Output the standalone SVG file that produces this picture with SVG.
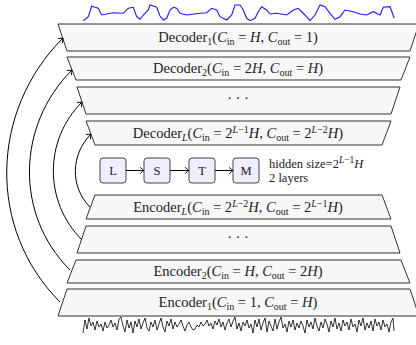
<svg xmlns="http://www.w3.org/2000/svg" width="416" height="345" viewBox="0 0 416 345">
<style>
text{font-family:"Liberation Serif","Times New Roman",serif;font-size:12.5px;fill:#222}
text.lab{font-size:14.5px}
.trap{fill:#f7f7f7;stroke:#333;stroke-width:1}
.box{fill:#eeeeff;stroke:#444;stroke-width:1}
.sub{font-size:9.5px}
.lab .sub{font-size:10px}
.i{font-style:italic}
.conn{fill:none;stroke:#000;stroke-width:1}
</style>
<defs>
<marker id="ah" markerWidth="10" markerHeight="10" refX="0" refY="0" viewBox="-5 -5 10 10" orient="auto" markerUnits="userSpaceOnUse">
<path d="M-4,-3.2 Q-1.2,-0.8 0,0 Q-1.2,0.8 -4,3.2" fill="none" stroke="#000" stroke-width="0.9"/>
</marker>
</defs>
<rect width="416" height="345" fill="#fff"/>
<polyline fill="none" stroke="#1a1aff" stroke-width="1.1" points="83.3,20.7 88.3,16.7 91.7,6 93.3,6.7 98.3,8.3 101.7,15 106.7,14 113.3,12.7 123.3,13.3 128.3,8.3 133.3,7.3 136.7,16.7 140,19.3 143.3,15 148.3,10 150,5 153.3,6 156.7,7.3 160,16 163.3,20 166.7,18.3 170,10 173.3,7.3 176.7,8.3 180,13.3 186.7,15 200,13.3 206.7,12.7 211.7,8.3 216.7,10 220,16.7 226.7,20 231.7,15 235,5 240,5 243.3,10 246.7,18.3 250,20.7 255,18.3 258.3,11.7 261.7,6.7 266.7,10 270,14 276.7,13.3 286.7,15 293.3,10 298.3,8.3 305,15 310,20.7 315,15 320,5 325,6.7 330,13.3 335,19.3 340,16.7 345,10 353.3,11.7 360,14 366.7,15 373.3,11.7 380,15 383.3,7.3 390,6.7 394.3,18.3"/>
<polyline fill="none" stroke="#000" stroke-width="0.8" points="83,333 85,320 87,329 89,318 91,326 93,322 95,330 97,321 99,327 101,324 103,331 105,322 107,328 109,325 111,320 113,327 115,323 117,330 119,319 121,317 123,326 125,332 127,320 129,328 131,322 133,333 135,321 137,327 139,319 141,329 143,323 145,318 147,328 149,331 151,322 153,327 155,320 157,330 159,324 161,318 163,327 165,332 167,321 169,326 171,319 173,329 175,322 177,327 179,324 181,320 183,326 185,331 187,325 189,322 191,327 193,330 195,329 197,325 199,327 201,322 203,326 205,324 207,320 209,326 211,323 213,329 215,321 217,325 219,319 221,327 223,322 225,330 227,323 229,319 231,327 233,321 235,317 237,329 239,323 241,331 243,322 245,326 247,320 249,328 251,324 253,333 255,320 257,327 259,319 261,330 263,323 265,318 267,332 269,321 271,326 273,331 275,319 277,329 279,322 281,317 283,328 285,324 287,332 289,321 291,327 293,320 295,330 297,323 299,328 301,321 303,326 305,333 307,320 309,327 311,322 313,329 315,318 317,326 319,331 321,322 323,328 325,319 327,324 329,332 331,321 333,327 335,318 337,329 339,323 341,331 343,320 345,326 347,322 349,330 351,319 353,327 355,324 357,332 359,320 361,326 363,318 365,330 367,323 369,328 371,321 373,331 375,319 377,326 379,322 381,330 383,320 385,327 387,324 389,332 391,322 393,318 394,331"/>

<g id="dec1">
<polygon class="trap" points="58,24 419,24 410,51 67,51"/>
<text class="lab" x="238" y="42" text-anchor="middle">Decoder<tspan class="sub" dy="2.5">1</tspan><tspan dy="-2.5">(</tspan><tspan class="i">C</tspan><tspan class="sub" dy="2.5">in</tspan><tspan dy="-2.5"> = </tspan><tspan class="i">H</tspan>, <tspan class="i">C</tspan><tspan class="sub" dy="2.5">out</tspan><tspan dy="-2.5"> = 1)</tspan></text>
</g>
<g id="dec2">
<polygon class="trap" points="67,57 410,57 401,80 76,80"/>
<text class="lab" x="238" y="73" text-anchor="middle">Decoder<tspan class="sub" dy="2.5">2</tspan><tspan dy="-2.5">(</tspan><tspan class="i">C</tspan><tspan class="sub" dy="2.5">in</tspan><tspan dy="-2.5"> = 2</tspan><tspan class="i">H</tspan>, <tspan class="i">C</tspan><tspan class="sub" dy="2.5">out</tspan><tspan dy="-2.5"> = </tspan><tspan class="i">H</tspan>)</text>
</g>
<g id="dec3">
<polygon class="trap" points="77,87 400,87 391,114 86,114"/>
<text class="lab" x="238" y="103" text-anchor="middle">· · ·</text>
</g>
<g id="decL">
<polygon class="trap" points="86,121 391,121 382,145 95,145"/>
<text class="lab" x="238" y="138" text-anchor="middle">Decoder<tspan class="sub i" dy="2.5">L</tspan><tspan dy="-2.5">(</tspan><tspan class="i">C</tspan><tspan class="sub" dy="2.5">in</tspan><tspan dy="-2.5"> = 2</tspan><tspan class="sub i" dy="-5">L</tspan><tspan class="sub">−1</tspan><tspan class="i" dy="5">H</tspan>, <tspan class="i">C</tspan><tspan class="sub" dy="2.5">out</tspan><tspan dy="-2.5"> = 2</tspan><tspan class="sub i" dy="-5">L</tspan><tspan class="sub">−2</tspan><tspan class="i" dy="5">H</tspan>)</text>
</g>
<g id="encL">
<polygon class="trap" points="95,195 382,195 391,219 86,219"/>
<text class="lab" x="238" y="212" text-anchor="middle">Encoder<tspan class="sub i" dy="2.5">L</tspan><tspan dy="-2.5">(</tspan><tspan class="i">C</tspan><tspan class="sub" dy="2.5">in</tspan><tspan dy="-2.5"> = 2</tspan><tspan class="sub i" dy="-5">L</tspan><tspan class="sub">−2</tspan><tspan class="i" dy="5">H</tspan>, <tspan class="i">C</tspan><tspan class="sub" dy="2.5">out</tspan><tspan dy="-2.5"> = 2</tspan><tspan class="sub i" dy="-5">L</tspan><tspan class="sub">−1</tspan><tspan class="i" dy="5">H</tspan>)</text>
</g>
<g id="enc3">
<polygon class="trap" points="86,226 391,226 400,253 77,253"/>
<text class="lab" x="238" y="242" text-anchor="middle">· · ·</text>
</g>
<g id="enc2">
<polygon class="trap" points="76,260 401,260 410,283 67,283"/>
<text class="lab" x="238" y="276" text-anchor="middle">Encoder<tspan class="sub" dy="2.5">2</tspan><tspan dy="-2.5">(</tspan><tspan class="i">C</tspan><tspan class="sub" dy="2.5">in</tspan><tspan dy="-2.5"> = </tspan><tspan class="i">H</tspan>, <tspan class="i">C</tspan><tspan class="sub" dy="2.5">out</tspan><tspan dy="-2.5"> = 2</tspan><tspan class="i">H</tspan>)</text>
</g>
<g id="enc1">
<polygon class="trap" points="67,289 410,289 419,316 58,316"/>
<text class="lab" x="238" y="307" text-anchor="middle">Encoder<tspan class="sub" dy="2.5">1</tspan><tspan dy="-2.5">(</tspan><tspan class="i">C</tspan><tspan class="sub" dy="2.5">in</tspan><tspan dy="-2.5"> = 1, </tspan><tspan class="i">C</tspan><tspan class="sub" dy="2.5">out</tspan><tspan dy="-2.5"> = </tspan><tspan class="i">H</tspan>)</text>
</g>

<g id="lstmL"><rect class="box" x="100" y="158" width="26" height="25" rx="3"/><text x="113" y="175" text-anchor="middle">L</text></g>
<g id="lstmS"><rect class="box" x="144" y="158" width="26" height="25" rx="3"/><text x="157" y="175" text-anchor="middle">S</text></g>
<g id="lstmT"><rect class="box" x="189" y="158" width="26" height="25" rx="3"/><text x="202" y="175" text-anchor="middle">T</text></g>
<g id="lstmM"><rect class="box" x="233" y="158" width="26" height="25" rx="3"/><text x="246" y="175" text-anchor="middle">M</text></g>
<g id="info">
<text x="269" y="168">hidden size=2<tspan class="sub i" dy="-5">L</tspan><tspan class="sub">−1</tspan><tspan class="i" dy="5">H</tspan></text>
<text x="269" y="182">2 layers</text>
</g>

<g id="connectors" class="conn">
<path d="M126,170.5 L144,170.5" marker-end="url(#ah)"/>
<path d="M170,170.5 L189,170.5" marker-end="url(#ah)"/>
<path d="M215,170.5 L233,170.5" marker-end="url(#ah)"/>
<path d="M60,302 C-13,229 -10,111 63,38" marker-end="url(#ah)"/>
<path d="M70,270 C14.6,214.6 16.6,125.4 72,70" marker-end="url(#ah)"/>
<path d="M82,240 C43.8,201.8 43.8,140.2 82,102" marker-end="url(#ah)"/>
<path d="M90,207 C69.8,186.8 70.8,154.2 91,134" marker-end="url(#ah)"/>
</g>
</svg>
